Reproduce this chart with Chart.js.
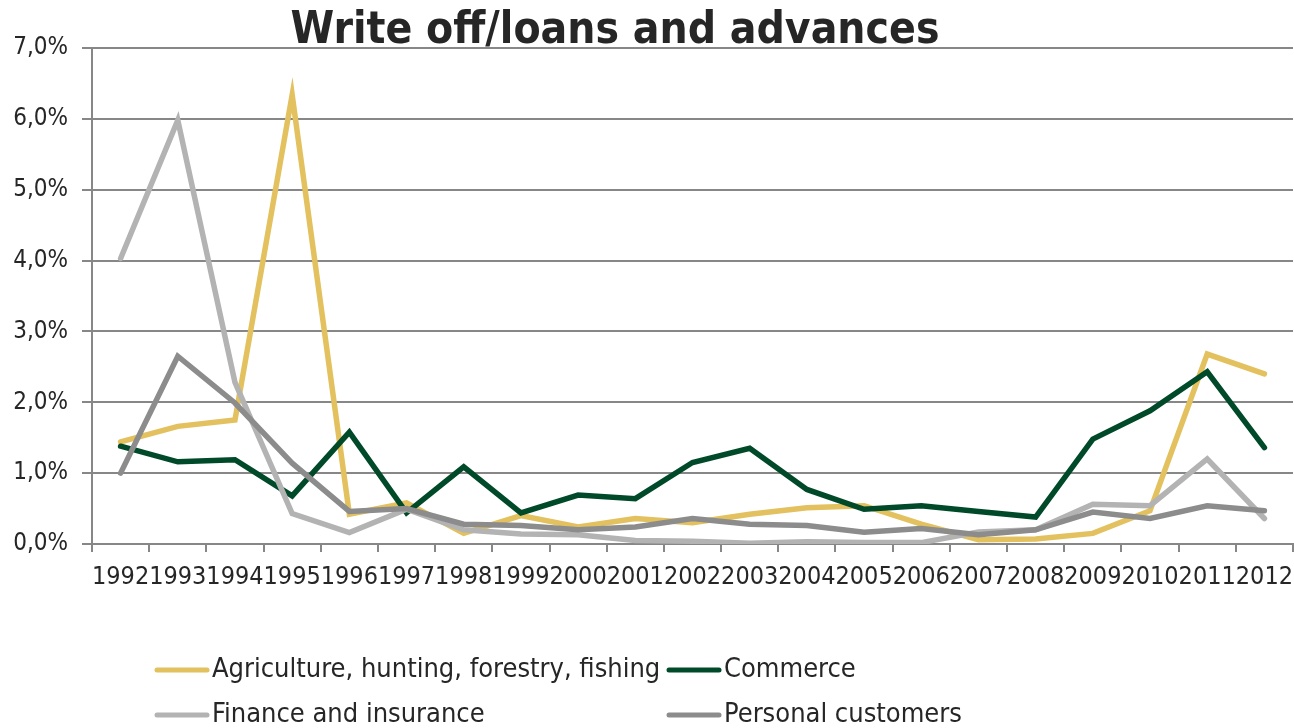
<!DOCTYPE html>
<html lang="en">
<head>
    <meta charset="UTF-8">
    <title>Write off/loans and advances</title>
    <script src="https://cdn.jsdelivr.net/npm/chart.js@4.4.0/dist/chart.umd.min.js"></script>
    <style>
        html, body { margin: 0; padding: 0; background: #fff; }
        #wrap { width: 1294px; height: 728px; position: relative; }
    </style>
</head>
<body>
    <div id="wrap"><canvas id="chart"></canvas></div>

    <script>
        // Data (percent)
        const years = ['1992', '1993', '1994', '1995', '1996', '1997', '1998', '1999', '2000', '2001', '2002',
                       '2003', '2004', '2005', '2006', '2007', '2008', '2009', '2010', '2011', '2012'];
        const agriculture = [1.44, 1.66, 1.75, 6.34, 0.42, 0.58, 0.15, 0.40, 0.24, 0.36, 0.30,
                             0.42, 0.51, 0.54, 0.28, 0.06, 0.07, 0.15, 0.47, 2.68, 2.40];
        const commerce = [1.38, 1.16, 1.19, 0.68, 1.58, 0.44, 1.09, 0.44, 0.69, 0.64, 1.15,
                          1.35, 0.77, 0.49, 0.54, 0.46, 0.38, 1.48, 1.88, 2.43, 1.36];
        const finance = [4.03, 5.98, 2.28, 0.43, 0.16, 0.49, 0.20, 0.14, 0.13, 0.05, 0.04,
                         0.01, 0.03, 0.02, 0.02, 0.17, 0.20, 0.56, 0.54, 1.20, 0.36];
        const personal = [1.00, 2.65, 1.99, 1.14, 0.46, 0.50, 0.28, 0.26, 0.20, 0.24, 0.36,
                          0.28, 0.26, 0.165, 0.22, 0.13, 0.20, 0.45, 0.36, 0.54, 0.47];
        const yTicks = [0, 1, 2, 3, 4, 5, 6, 7];

        const gridColor = '#878787';
        const textColor = '#262626';

        // Title drawn by hand so it can sit over the top of the plot
        const titlePlugin = {
            id: 'titleText',
            afterDraw(chart) {
                const ctx = chart.ctx;
                ctx.save();
                ctx.fillStyle = textColor;
                ctx.font = 'bold 44px "DejaVu Sans Condensed", "DejaVu Sans", sans-serif';
                ctx.textAlign = 'center';
                ctx.textBaseline = 'alphabetic';
                ctx.fillText('Write off/loans and advances', 615, 43, 650);
                ctx.restore();
            }
        };

        // Two-column legend under the chart
        const legendPlugin = {
            id: 'gridLegend',
            afterDraw(chart) {
                const ctx = chart.ctx;
                const cols = [155, 667];
                const rows = [670, 715];
                ctx.save();
                ctx.font = '27px "DejaVu Sans Condensed", "DejaVu Sans", sans-serif';
                ctx.textBaseline = 'middle';
                ctx.lineCap = 'round';
                chart.data.datasets.forEach((ds, i) => {
                    const x = cols[i % 2];
                    const y = rows[Math.floor(i / 2)];
                    ctx.strokeStyle = ds.borderColor;
                    ctx.lineWidth = 5;
                    ctx.beginPath();
                    ctx.moveTo(x + 2, y);
                    ctx.lineTo(x + 52, y);
                    ctx.stroke();
                    ctx.fillStyle = textColor;
                    ctx.fillText(ds.label, x + 57, y, i === 0 ? 450 : 400);
                });
                ctx.restore();
            }
        };

        new Chart(document.getElementById('chart'), {
            type: 'line',
            data: {
                labels: years,
                datasets: [
                    { label: 'Agriculture, hunting, forestry, fishing', data: agriculture, borderColor: '#E2C15E', order: 4 },
                    { label: 'Commerce', data: commerce, borderColor: '#004A2A', order: 3 },
                    { label: 'Finance and insurance', data: finance, borderColor: '#B3B3B3', order: 2 },
                    { label: 'Personal customers', data: personal, borderColor: '#8C8C8C', order: 1 }
                ].map(d => Object.assign(d, {
                    borderWidth: 5.5,
                    pointRadius: 0,
                    pointHoverRadius: 0,
                    tension: 0,
                    fill: false,
                    borderCapStyle: 'round',
                    borderJoinStyle: 'miter'
                }))
            },
            options: {
                responsive: true,
                maintainAspectRatio: false,
                animation: false,
                layout: { padding: { top: 48, right: 1, left: 0, bottom: 0 } },
                plugins: {
                    legend: { display: false },
                    title: { display: false },
                    tooltip: { enabled: false }
                },
                scales: {
                    x: {
                        offset: true,
                        grid: {
                            offset: true,
                            drawOnChartArea: false,
                            drawTicks: true,
                            tickLength: 8,
                            color: gridColor,
                            lineWidth: 2
                        },
                        border: { display: true, color: gridColor, width: 2 },
                        ticks: {
                            autoSkip: false,
                            maxRotation: 0,
                            minRotation: 0,
                            padding: 10,
                            color: textColor,
                            font: { family: '"DejaVu Sans Condensed", "DejaVu Sans", sans-serif', size: 25 }
                        },
                        afterFit(s) {
                            s.height = 184;
                            s.paddingLeft = 0;
                            s.paddingRight = 0;
                        }
                    },
                    y: {
                        min: 0,
                        max: 7,
                        afterBuildTicks(s) { s.ticks = yTicks.map(v => ({ value: v })); },
                        grid: {
                            color: gridColor,
                            lineWidth: 2,
                            tickLength: 10,
                            drawTicks: true
                        },
                        border: { display: true, color: gridColor, width: 2 },
                        ticks: {
                            padding: 14,
                            color: textColor,
                            font: { family: '"DejaVu Sans Condensed", "DejaVu Sans", sans-serif', size: 24 },
                            callback: v => v.toFixed(1).replace('.', ',') + '%'
                        },
                        afterFit(s) { s.width = 92; }
                    }
                }
            },
            plugins: [titlePlugin, legendPlugin]
        });
    </script>
</body>
</html>
